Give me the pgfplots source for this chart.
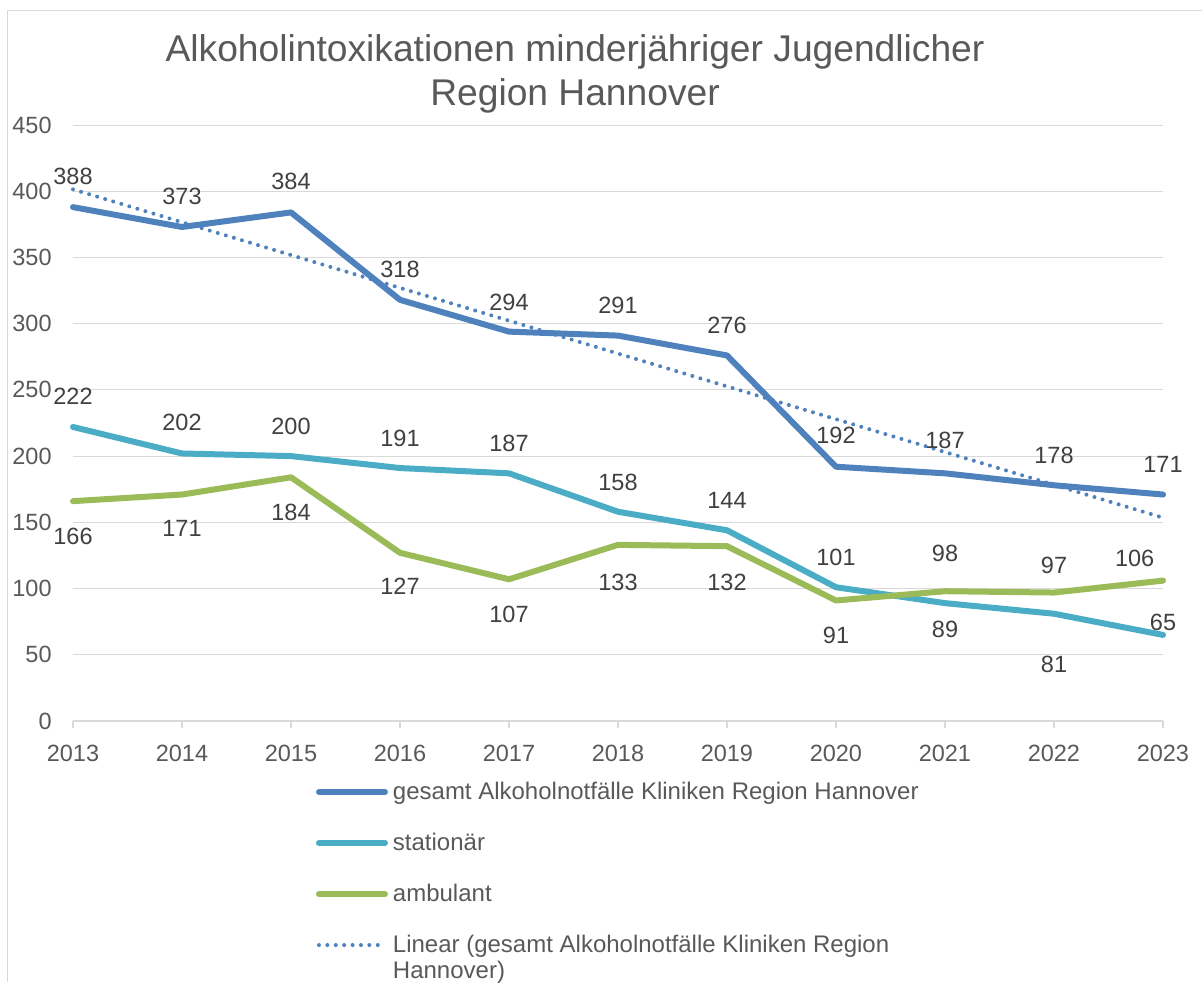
\documentclass[border=0pt]{standalone}
\usepackage{fontspec}
\setmainfont{Liberation Sans}
\usepackage{pgfplots}
\pgfplotsset{compat=1.18}
\definecolor{cGes}{HTML}{4F81BD}
\definecolor{cSta}{HTML}{4BACC6}
\definecolor{cAmb}{HTML}{9BBB59}
\definecolor{cGrid}{HTML}{D9D9D9}
\definecolor{cTxt}{HTML}{595959}
\definecolor{cLbl}{HTML}{404040}
\tikzset{lbl/.style={font=\fontsize{11.75}{14}\selectfont, text=cLbl, inner sep=0pt}}
\begin{document}
\begin{tikzpicture}
\path[use as bounding box] (0,0) rectangle (601pt,491pt);
\draw[cGrid, line width=0.5pt] (3.5pt,0) -- (3.5pt,485.5pt) -- (601pt,485.5pt);
\begin{axis}[
  at={(36.5pt,130.5pt)}, anchor=south west,
  scale only axis, width=545pt, height=298pt,
  xmin=2013, xmax=2023, ymin=0, ymax=450,
  xtick={2013,2014,...,2023}, ytick={0,50,...,450},
  axis lines*=left,
  y axis line style={draw=none},
  x axis line style={cGrid, line width=0.75pt},
  ytick style={draw=none},
  xtick style={cGrid, line width=0.75pt},
  xtick align=outside, major tick length=3.5pt,
  ymajorgrids, grid style={cGrid, line width=0.5pt},
  /pgf/number format/.cd, 1000 sep={}, assume math mode=true, /pgfplots/.cd,
  tick label style={font=\fontsize{11.75}{14}\selectfont, text=cTxt, inner sep=0pt},
  yticklabel style={xshift=-10.5pt},
  xticklabel style={yshift=-8.5pt},
  clip=false,
  title={Alkoholintoxikationen minderjähriger Jugendlicher\\Region Hannover},
  title style={at={(axis description cs:0.4606,1)}, anchor=south, align=center, inner sep=0pt,
    font=\fontsize{18.6}{22}\selectfont, text=cTxt, yshift=-0.5pt},
  legend style={at={(axis description cs:0.2229,-0.094)}, anchor=north west, draw=none, fill=none,
    inner sep=0pt, outer sep=0pt, row sep=11pt, column sep=0.5pt,
    font=\fontsize{12}{13}\selectfont, text=cTxt,
    cells={anchor=base west, inner sep=0pt, text height=9pt, text depth=3pt}},
  legend image code/.code={\draw[#1] (1.5pt,0.35em) -- (34.5pt,0.35em);},
  every axis plot/.append style={line width=3pt, line cap=round, line join=round},
]
\addplot[cGes] coordinates {(2013,388) (2014,373) (2015,384) (2016,318) (2017,294) (2018,291) (2019,276) (2020,192) (2021,187) (2022,178) (2023,171)};
\addlegendentry{gesamt Alkoholnotfälle Kliniken Region Hannover}
\addplot[cSta] coordinates {(2013,222) (2014,202) (2015,200) (2016,191) (2017,187) (2018,158) (2019,144) (2020,101) (2021,89) (2022,81) (2023,65)};
\addlegendentry{stationär}
\addplot[cAmb] coordinates {(2013,166) (2014,171) (2015,184) (2016,127) (2017,107) (2018,133) (2019,132) (2020,91) (2021,98) (2022,97) (2023,106)};
\addlegendentry{ambulant}
\addplot[cGes, line width=2pt, dash pattern=on 0pt off 4.2pt, line cap=round] coordinates {(2013,401.4) (2023,153.5)};
\addlegendentry{\begin{tabular}[t]{@{}l@{}}Linear (gesamt Alkoholnotfälle Kliniken Region\\Hannover)\end{tabular}}
% labels gesamt
\node[lbl] at (axis cs:2013,411.5) {388};
\node[lbl] at (axis cs:2014,396.4) {373};
\node[lbl] at (axis cs:2015,407.7) {384};
\node[lbl] at (axis cs:2016,341.3) {318};
\node[lbl] at (axis cs:2017,316.4) {294};
\node[lbl] at (axis cs:2018,314.1) {291};
\node[lbl] at (axis cs:2019,299.0) {276};
\node[lbl] at (axis cs:2020,216.0) {192};
\node[lbl] at (axis cs:2021,211.5) {187};
\node[lbl] at (axis cs:2022,200.9) {178};
\node[lbl] at (axis cs:2023,194.1) {171};
% labels stationaer
\node[lbl] at (axis cs:2013,245.4) {222};
\node[lbl] at (axis cs:2014,225.8) {202};
\node[lbl] at (axis cs:2015,222.7) {200};
\node[lbl] at (axis cs:2016,213.7) {191};
\node[lbl] at (axis cs:2017,209.9) {187};
\node[lbl] at (axis cs:2018,180.5) {158};
\node[lbl] at (axis cs:2019,166.9) {144};
\node[lbl] at (axis cs:2020,123.8) {101};
\node[lbl] at (axis cs:2021,69.5) {89};
\node[lbl] at (axis cs:2022,43.0) {81};
\node[lbl] at (axis cs:2023,74.8) {65};
% labels ambulant
\node[lbl] at (axis cs:2013,139.7) {166};
\node[lbl] at (axis cs:2014,145.7) {171};
\node[lbl] at (axis cs:2015,157.8) {184};
\node[lbl] at (axis cs:2016,101.9) {127};
\node[lbl] at (axis cs:2017,80.8) {107};
\node[lbl] at (axis cs:2018,105.0) {133};
\node[lbl] at (axis cs:2019,105.0) {132};
\node[lbl] at (axis cs:2020,64.9) {91};
\node[lbl] at (axis cs:2021,126.9) {98};
\node[lbl] at (axis cs:2022,117.8) {97};
\node[lbl] at (axis cs:2022.74,123.1) {106};
\end{axis}
\end{tikzpicture}
\end{document}
